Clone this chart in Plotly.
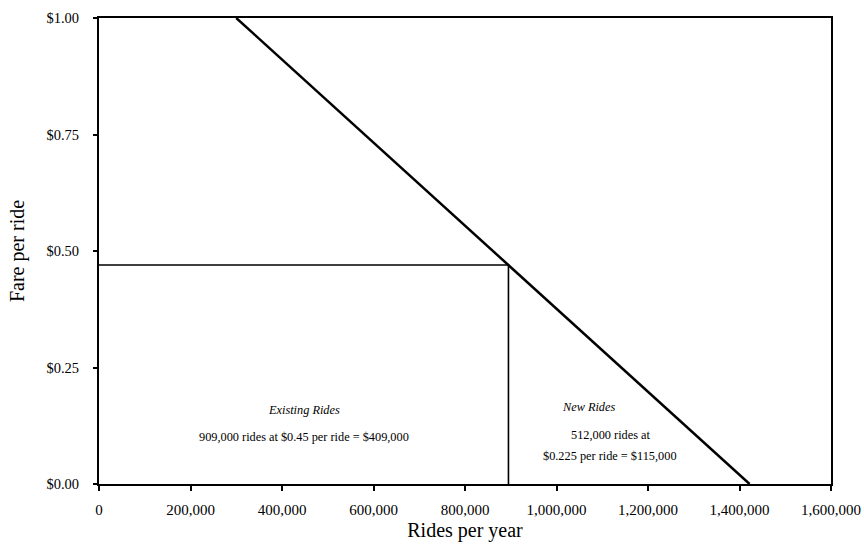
import plotly.graph_objects as go

# Demand curve endpoints (rides per year, fare per ride)
demand_rides = [300000, 1422000]
demand_fare = [1.00, 0.00]

# Existing fare / ride point
existing_rides = 895000
existing_fare = 0.47

x_ticks = [0, 200000, 400000, 600000, 800000, 1000000, 1200000, 1400000, 1600000]
y_ticks = [0.00, 0.25, 0.50, 0.75, 1.00]
y_tick_text = ["$0.00", "$0.25", "$0.50", "$0.75", "$1.00"]

FONT = "Liberation Serif"

fig = go.Figure()
fig.add_trace(go.Scatter(x=demand_rides, y=demand_fare, mode="lines",
                         line=dict(color="black", width=2.5), showlegend=False,
                         hoverinfo="skip"))
fig.add_trace(go.Scatter(x=[0, existing_rides, existing_rides],
                         y=[existing_fare, existing_fare, 0], mode="lines",
                         line=dict(color="black", width=1.6), showlegend=False,
                         hoverinfo="skip"))

annots = [
    dict(x=448000, y=0.158, text="<i>Existing Rides</i>"),
    dict(x=448000, y=0.100, text="909,000 rides at $0.45 per ride = $409,000"),
    dict(x=1070000, y=0.166, text="<i>New Rides</i>"),
    dict(x=1118000, y=0.105, text="512,000 rides at"),
    dict(x=1118000, y=0.060, text="$0.225 per ride = $115,000"),
]
for a in annots:
    fig.add_annotation(x=a["x"], y=a["y"], text=a["text"], showarrow=False,
                       font=dict(family=FONT, size=12.3, color="black"),
                       xanchor="center", yanchor="middle")

fig.update_xaxes(range=[0, 1600000], tickvals=x_ticks, tickformat=",d",
                 showgrid=False, zeroline=False, showline=True, linecolor="black",
                 linewidth=2, mirror=True, ticks="outside", ticklen=5,
                 tickcolor="black", tickwidth=1.5, ticklabelstandoff=6,
                 automargin=False,
                 tickfont=dict(family=FONT, size=15, color="black"),
                 title=dict(text="Rides per year", font=dict(family=FONT, size=20, color="black"),
                            standoff=6))
fig.update_yaxes(range=[0, 1.0], tickmode="array", tickvals=y_ticks, ticktext=y_tick_text,
                 showgrid=False, zeroline=False, showline=True, linecolor="black",
                 linewidth=2, mirror=True, ticks="outside", ticklen=4,
                 tickcolor="black", tickwidth=1.5, ticklabelstandoff=11,
                 automargin=False,
                 tickfont=dict(family=FONT, size=14.5, color="black"),
                 title=dict(text="Fare per ride", font=dict(family=FONT, size=20, color="black"),
                            standoff=16))

fig.update_layout(width=864, height=548, plot_bgcolor="white", paper_bgcolor="white",
                  margin=dict(l=99, r=33, t=18, b=64), showlegend=False)

fig.write_html("out.html", config={"displayModeBar": False},
               post_script="document.body.style.margin='0';document.body.style.overflow='hidden';")
